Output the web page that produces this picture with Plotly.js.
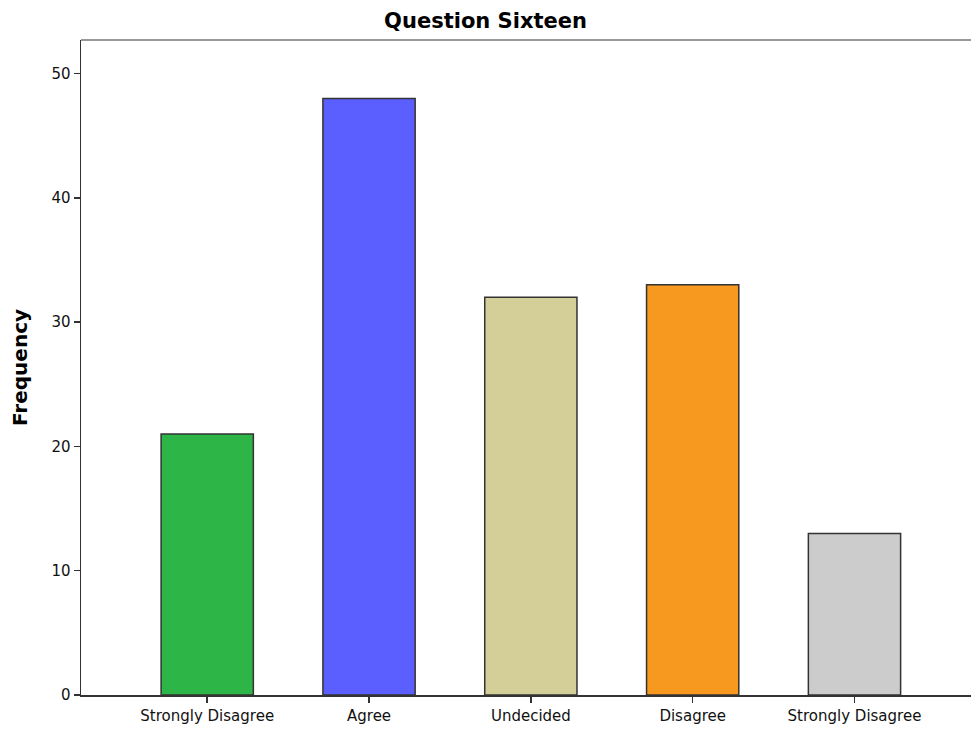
<!DOCTYPE html>
<html><head><meta charset="utf-8">
<script src="https://cdn.plot.ly/plotly-3.0.1.min.js"></script>
<style>html,body{margin:0;padding:0;overflow:hidden;background:#fff}#chart{width:971px;height:731px}</style>
</head><body><div id="chart"></div>
<script>
const positions = [0, 1, 2, 3, 4];
const tickLabels = ["Strongly Disagree", "Agree", "Undecided", "Disagree", "Strongly Disagree"];
const frequencies = [21, 48, 32, 33, 13];
const barColors = ["#2EB548", "#5B5FFF", "#D4CE98", "#F7981F", "#CCCCCC"];

const trace = {
  type: "bar",
  x: positions,
  y: frequencies,
  width: 0.57,
  marker: {color: barColors, line: {color: "#333333", width: 1.5}},
  hoverinfo: "none"
};

const layout = {
  width: 971, height: 731,
  margin: {l: 81, r: 0, t: 40, b: 36},
  paper_bgcolor: "#ffffff", plot_bgcolor: "#ffffff",
  showlegend: false,
  font: {family: "DejaVu Sans, Verdana, sans-serif", color: "#000"},
  title: {text: "<b>Question Sixteen</b>", font: {size: 21, color: "#000"}, x: 0.5, xref: "container", y: 0.972, yref: "container", yanchor: "middle"},
  xaxis: {
    range: [-0.78, 4.72], tickvals: positions, ticktext: tickLabels,
    ticks: "outside", ticklen: 6, tickwidth: 1.5, tickcolor: "#333",
    showline: true, linecolor: "#333", linewidth: 1.5,
    showgrid: false, zeroline: false, fixedrange: true,
    tickfont: {size: 15, color: "#111"}
  },
  yaxis: {
    range: [0, 52.7], tickvals: [0, 10, 20, 30, 40, 50],
    ticks: "outside", ticklen: 6, tickwidth: 1.5, tickcolor: "#333",
    showline: true, linecolor: "#333", linewidth: 1.5,
    showgrid: false, zeroline: false, fixedrange: true,
    tickfont: {size: 15, color: "#111"},
    title: {text: "<b>Frequency</b>", font: {size: 20, color: "#000"}, standoff: 18}
  },
  shapes: [{type: "line", xref: "paper", yref: "paper", x0: 0, x1: 1, y0: 1, y1: 1, line: {color: "#999999", width: 2}}]
};

Plotly.newPlot("chart", [trace], layout, {staticPlot: true, displayModeBar: false});
</script></body></html>
